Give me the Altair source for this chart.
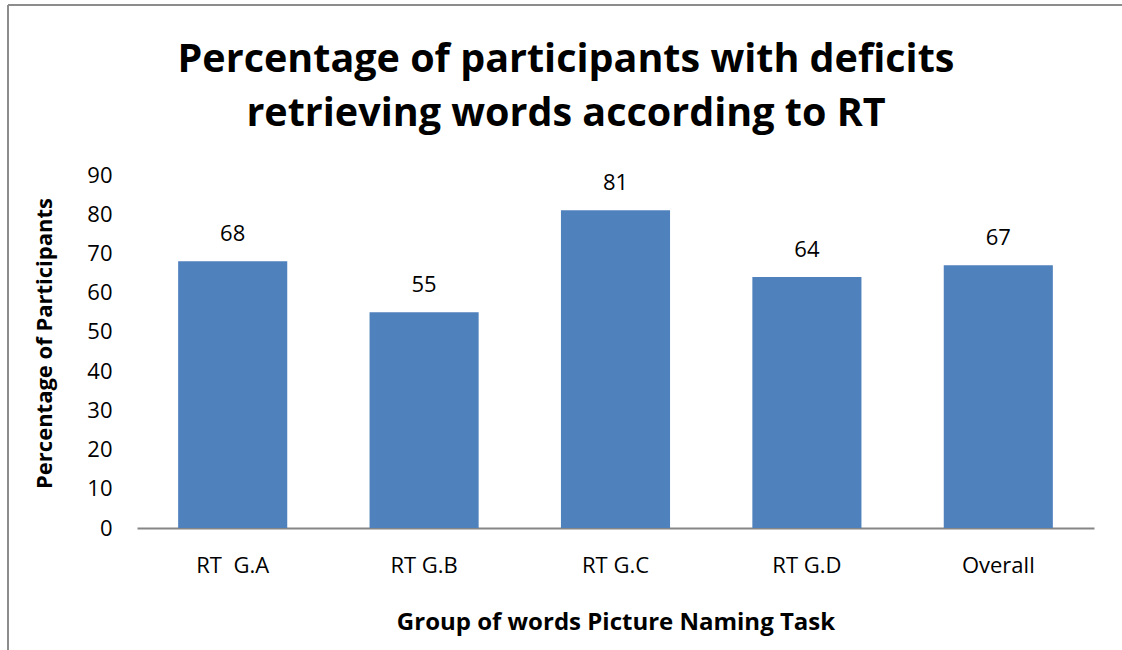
import altair as alt
import pandas as pd

categories = ["RT\u00a0 G.A", "RT G.B", "RT G.C", "RT G.D", "Overall"]
values = [68, 55, 81, 64, 67]
y_ticks = [0, 10, 20, 30, 40, 50, 60, 70, 80, 90]
title_lines = ["Percentage of participants with deficits", "retrieving words according to RT"]

df = pd.DataFrame({"group": categories, "pct": values})

FONT = "Open Sans"
BLUE = "#4F81BD"

x_enc = alt.X("group:N", sort=categories,
              scale=alt.Scale(paddingInner=0.43, paddingOuter=0.215),
              axis=alt.Axis(title="Group of words Picture Naming Task", labelAngle=0,
                            labelFontSize=22, labelFont=FONT, labelColor="black",
                            labelPadding=27, ticks=False, domainColor="#868686", domainWidth=2,
                            titleFont=FONT, titleFontSize=24, titleFontWeight="bold",
                            titleColor="black", titlePadding=34))
y_enc = alt.Y("pct:Q", scale=alt.Scale(domain=[0, 90], nice=False),
              axis=alt.Axis(title="Percentage of Participants", values=y_ticks,
                            grid=False, domain=False, ticks=False, labelOverlap=False,
                            labelFlush=False,
                            labelFontSize=22, labelFont=FONT, labelColor="black",
                            labelPadding=25, titleFont=FONT, titleFontSize=22,
                            titleFontWeight="bold", titleColor="black", titlePadding=30,
                            titleY=168))

base = alt.Chart(df)

bars = base.mark_bar(color=BLUE).encode(x=x_enc, y=y_enc)

labels = base.mark_text(dy=-27, fontSize=22, font=FONT, color="black", baseline="middle").encode(
    x=x_enc, y=y_enc, text="pct:Q",
)

one = pd.DataFrame({"a": [0]})
title = alt.Chart(one).mark_text(
    font=FONT, fontSize=39.5, fontWeight="bold", color="black",
    align="center", baseline="middle", lineHeight=54,
).encode(x=alt.value(429), y=alt.value(-115), text=alt.value(title_lines))

border_top = alt.Chart(one).mark_rule(color="#8c8c8c", strokeWidth=2, clip=False).encode(
    x=alt.value(-129), x2=alt.value(1000), y=alt.value(-170))
border_left = alt.Chart(one).mark_rule(color="#8c8c8c", strokeWidth=2, clip=False).encode(
    x=alt.value(-129), y=alt.value(-170), y2=alt.value(480))

chart = alt.layer(bars, labels, title, border_top, border_left).properties(
    width=957, height=353,
    autosize=alt.AutoSizeParams(type="none"),
    padding={"left": 137, "top": 175, "right": 28, "bottom": 122},
).configure_view(stroke=None)

chart.save("out.html", embed_options={"renderer": "svg", "actions": False})
